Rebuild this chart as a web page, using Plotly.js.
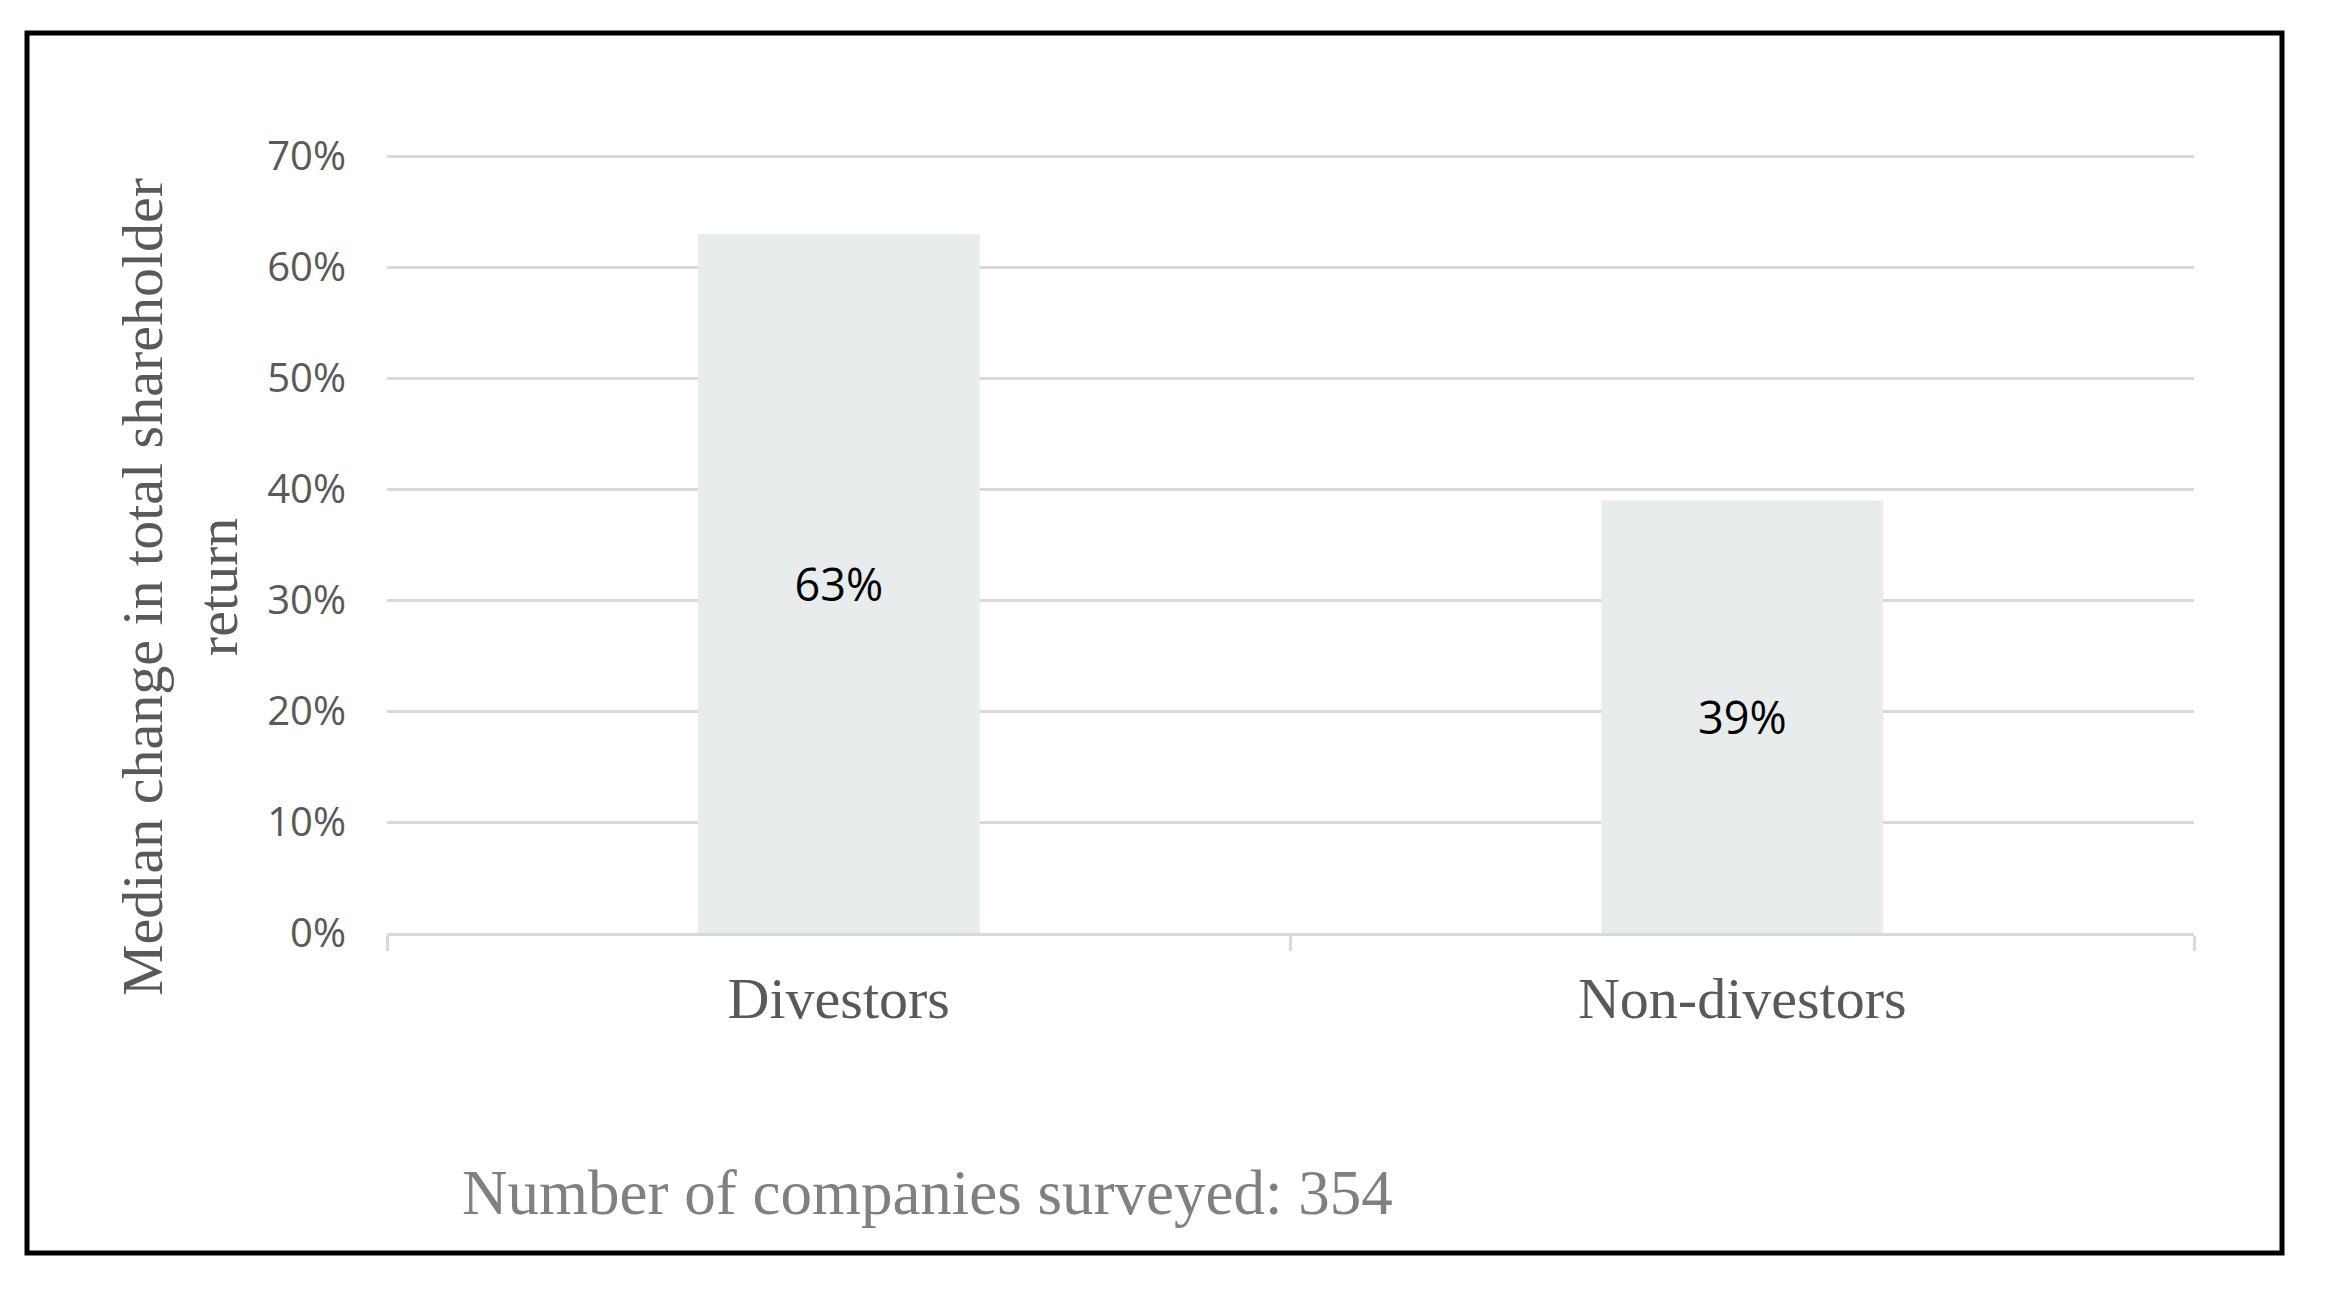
<!DOCTYPE html>
<html>
<head>
<meta charset="utf-8">
<script src="https://cdn.plot.ly/plotly-3.0.1.min.js"></script>
<style>html,body{margin:0;padding:0;background:#fff;}#chart{width:2326px;height:1292px;}</style>
</head>
<body>
<div id="chart"></div>
<script>
const categories = ["Divestors", "Non-divestors"];
const medianChange = [0.63, 0.39];
const yTickValues = [0, 0.1, 0.2, 0.3, 0.4, 0.5, 0.6, 0.7];
const yAxisTitle = "Median change in total shareholder<br>return";
const footnote = "Number of companies surveyed: 354";

const trace = {
  type: "bar",
  x: categories,
  y: medianChange,
  marker: {color: "#e9ecec", line: {width: 0}},
  texttemplate: "%{y:.0%}",
  textposition: "inside",
  insidetextanchor: "middle",
  textangle: 0,
  textfont: {family: "Open Sans", size: 45, color: "#000000"},
  hoverinfo: "skip"
};

const plotTop = 154, plotBottom = 933, plotLeft = 387, plotRight = 2194;
const plotH = plotBottom - plotTop, plotW = plotRight - plotLeft;
const px = (x) => (x - plotLeft) / plotW;
const py = (y) => (plotBottom - y) / plotH;

const layout = {
  width: 2326,
  height: 1292,
  paper_bgcolor: "#ffffff",
  plot_bgcolor: "#ffffff",
  showlegend: false,
  bargap: 0.688,
  margin: {l: plotLeft, r: 2326 - plotRight, t: plotTop, b: 1292 - plotBottom, pad: 0},
  xaxis: {
    type: "category",
    showgrid: false,
    showline: true,
    linecolor: "#d9d9d9",
    linewidth: 3,
    ticks: "outside",
    tickson: "boundaries",
    ticklen: 15,
    tickwidth: 3,
    tickcolor: "#d9d9d9",
    tickfont: {family: "Liberation Serif", size: 58, color: "#595959"},
    ticklabelstandoff: 12,
    zeroline: false
  },
  yaxis: {
    range: [0, 0.7022],
    tickvals: yTickValues,
    tickformat: ".0%",
    showgrid: true,
    gridcolor: "#d9d9d9",
    gridwidth: 3,
    zeroline: false,
    showline: false,
    ticks: "",
    tickfont: {family: "Open Sans", size: 40, color: "#595959"},
    ticklabelstandoff: 40
  },
  annotations: [
    {
      text: yAxisTitle,
      textangle: -90,
      xref: "paper", yref: "paper",
      x: px(180), y: py(587),
      xanchor: "center", yanchor: "middle",
      showarrow: false,
      font: {family: "Liberation Serif", size: 58, color: "#595959"}
    },
    {
      text: footnote,
      xref: "paper", yref: "paper",
      x: px(460), y: py(1193),
      xanchor: "left", yanchor: "middle",
      showarrow: false,
      font: {family: "Liberation Serif", size: 63, color: "#808080"}
    }
  ],
  shapes: [
    {
      type: "rect",
      xref: "paper", yref: "paper",
      x0: px(27), x1: px(2282),
      y0: py(1253), y1: py(33),
      line: {color: "#000000", width: 5},
      fillcolor: "rgba(0,0,0,0)",
      layer: "above"
    }
  ]
};

Plotly.newPlot("chart", [trace], layout, {displayModeBar: false, staticPlot: true});
</script>
</body>
</html>
